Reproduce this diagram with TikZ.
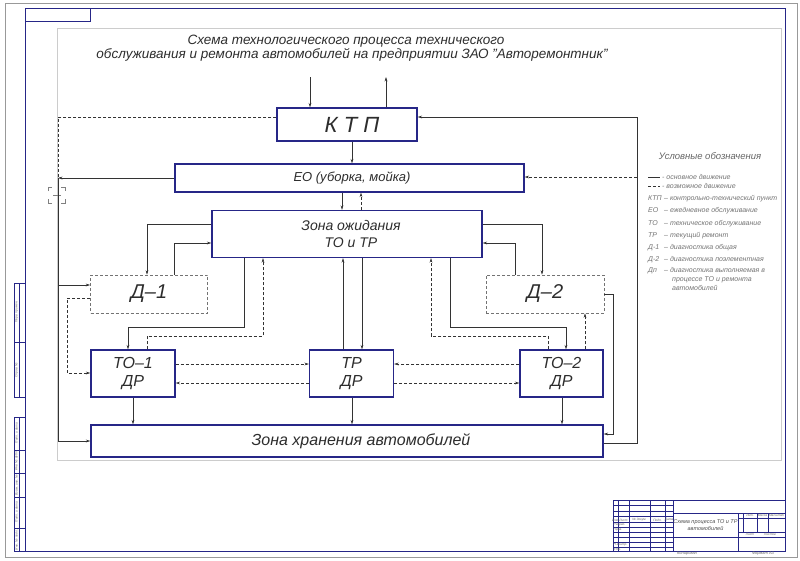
\documentclass[tikz,border=0pt]{standalone}
\usepackage{fontspec}
\setmainfont{Liberation Sans}
\usetikzlibrary{arrows.meta}
\definecolor{frameblue}{RGB}{38,38,135}
\definecolor{ink}{RGB}{45,45,45}
\begin{document}
\begin{tikzpicture}[x=1pt,y=-1pt,
  box/.style={draw=frameblue, line width=1.3pt, fill=white, inner sep=0pt, text=ink, align=center},
  dbox/.style={draw=black!55, dash pattern=on 3pt off 2pt, line width=0.7pt, inner sep=0pt, text=ink, align=center},
  conn/.style={draw=black!80, line width=0.55pt, -{Stealth[length=4.5pt,width=2.8pt]}},
  dconn/.style={conn, dash pattern=on 3pt off 2pt},
  ln/.style={draw=black!80, line width=0.55pt},
  dln/.style={ln, dash pattern=on 3pt off 2pt},
  fr/.style={draw=frameblue, line width=1pt},
  fthin/.style={draw=frameblue, line width=0.4pt},
  lg/.style={anchor=base west, inner sep=0pt, text=black!55, font=\fontsize{7}{8}\selectfont\itshape},
  st/.style={inner sep=0pt, text=black!60, font=\fontsize{3.2}{3.5}\selectfont\itshape},
  sv/.style={st, rotate=90},
]
\useasboundingbox (0,0) rectangle (800,560);
% ---------- sheet frame ----------
\draw[black!40, line width=0.4pt] (5,3) rectangle (797,557);
\draw[fr] (25,8) rectangle (785,551);
\draw[fr] (25,8) rectangle (90,21);
\draw[black!20, line width=0.5pt] (57,28) rectangle (781,460);
% left strips
\draw[fr] (14,283) rectangle (25,397);
\draw[fr] (14,342) -- (25,342);
\draw[fthin] (19,283) -- (19,397);
\node[sv] (s1) at (16.5,312) {Перв. примен.};
\node[sv] (s2) at (16.5,370) {Справ. №};
\draw[fr] (14,417) rectangle (25,551);
\foreach \yy in {450,473,497,528} \draw[fr] (14,\yy) -- (25,\yy);
\draw[fthin] (19,417) -- (19,551);
\node[sv] (s3) at (16.5,433) {Подп. и дата};
\node[sv] (s4) at (16.5,461) {Инв. № дубл.};
\node[sv] (s5) at (16.5,485) {Взам. инв. №};
\node[sv] (s6) at (16.5,512) {Подп. и дата};
\node[sv] (s7) at (16.5,540) {Инв. № подл.};
% title block
\draw[fr] (613,500) rectangle (785,551);
\draw[fr] (673,500) -- (673,551);
\foreach \xx in {618,629,650,665} \draw[fthin] (\xx,500) -- (\xx,551);
\foreach \yy in {505,511,516,527,532,537,542,547} \draw[fthin] (613,\yy) -- (673,\yy);
\draw[fr] (613,522) -- (673,522);
\draw[fr] (673,513) -- (785,513);
\draw[fr] (673,537) -- (785,537);
\draw[fr] (738,513) -- (738,551);
\draw[fthin] (738,518) -- (785,518);
\draw[fthin] (738,532) -- (785,532);
\foreach \xx in {743,757,768} \draw[fthin] (\xx,513) -- (\xx,532);
\node[st] (tb1) at (615.5,520) {Изм.};
\node[st] (tb2) at (623.5,520) {Лист};
\node[st] (tb3) at (639.5,520) {№ докум.};
\node[st] (tb4) at (657.5,520) {Подп.};
\node[st] (tb5) at (669,520) {Дата};
\node[st, anchor=west] (tb6) at (613.5,524.5) {Разраб.};
\node[st, anchor=west] (tb7) at (613.5,529.5) {Пров.};
\node[st, anchor=west] (tb8) at (613.5,544.5) {Н.контр.};
\node[st, anchor=west] (tb9) at (613.5,549.5) {Утв.};
\node[st, text=black!70, font=\fontsize{5.5}{6.5}\selectfont\itshape, align=center] (tb10) at (705.5,525) {Схема процесса ТО и ТР\\автомобилей};
\node[st] (tb11) at (750,515.5) {Лит.};
\node[st] (tb12) at (762.5,515.5) {Масса};
\node[st] (tb13) at (776.5,515.5) {Масштаб};
\node[st] (tb14) at (750,534.5) {Лист};
\node[st] (tb15) at (770,534.5) {Листов};
\node[st, font=\fontsize{4}{4.5}\selectfont\itshape] (tb16) at (687,554) {Копировал};
\node[st, font=\fontsize{4}{4.5}\selectfont\itshape] (tb17) at (763,554) {Формат А3};
% crosshair mark
\draw[black!50, line width=0.4pt] (48,191) -- (48,187) -- (52,187);
\draw[black!50, line width=0.4pt] (61,187) -- (65,187) -- (65,191);
\draw[black!50, line width=0.4pt] (48,199) -- (48,203) -- (52,203);
\draw[black!50, line width=0.4pt] (61,203) -- (65,203) -- (65,199);
\draw[black!50, line width=0.4pt] (53,195) -- (61,195);
% ---------- title ----------
\node[inner sep=0pt, anchor=base, text=ink, font=\fontsize{13.5}{16}\selectfont\itshape] (t1) at (346,44) {Схема технологического процесса технического};
\node[inner sep=0pt, anchor=base, text=ink, font=\fontsize{13.5}{16}\selectfont\itshape] (t2) at (352,58) {обслуживания и ремонта автомобилей на предприятии ЗАО "Авторемонтник"};
% ---------- boxes ----------
\node[box, minimum width=140pt, minimum height=33pt, font=\fontsize{22}{24}\selectfont\itshape] (ktp) at (347,124.5) {\hspace*{10pt}К Т П};
\node[box, minimum width=349pt, minimum height=28pt, font=\fontsize{13}{15}\selectfont\itshape] (eo) at (349.5,178) {\hspace*{5pt}ЕО (уборка, мойка)};
\node[box, minimum width=270pt, minimum height=47pt, font=\fontsize{14}{17}\selectfont\itshape] (zo) at (347,234) {\hspace*{8pt}Зона ожидания\\\hspace*{8pt}ТО и ТР};
\node[dbox, minimum width=117pt, minimum height=38pt, font=\fontsize{20}{22}\selectfont\itshape] (d1) at (149,294) {Д–1};
\node[dbox, minimum width=118pt, minimum height=38pt, font=\fontsize{20}{22}\selectfont\itshape] (d2) at (545,294) {Д–2};
\node[box, minimum width=84pt, minimum height=47pt, font=\fontsize{16}{18}\selectfont\itshape] (to1) at (133,373.5) {ТО–1\\ДР};
\node[box, minimum width=84pt, minimum height=47pt, font=\fontsize{16}{18}\selectfont\itshape] (tr) at (351.5,373.5) {ТР\\ДР};
\node[box, minimum width=83pt, minimum height=47pt, font=\fontsize{16}{18}\selectfont\itshape] (to2) at (561.5,373.5) {ТО–2\\ДР};
\node[box, minimum width=512pt, minimum height=32pt, font=\fontsize{16}{18}\selectfont\itshape] (zh) at (347,441) {\hspace*{28pt}Зона хранения автомобилей};
% ---------- free ends ----------
\coordinate (in1) at (310,77);
\coordinate (out1) at (386,77);
\coordinate (rt) at (637,117);
\coordinate (rb) at (637,443);
\coordinate (re) at (637,177);
\coordinate (lt) at (58,117);
\coordinate (lm) at (58,178);
\coordinate (lb) at (58,441);
% ---------- connectors ----------
\draw[conn] (in1) -- (in1 |- ktp.north);
\draw[conn] (out1 |- ktp.north) -- (out1);
\draw[conn] (zh.east |- rb) -- (rb) -- (rt) -- (ktp.east |- rt);
\draw[dconn] (re) -- (eo.east |- re);
\draw[dln] (ktp.west |- lt) -- (lt) -- (lm);
\draw[conn] (eo.west) -- (lm);
\draw[conn] (lm) -- (lb) -- (zh.west);
\draw[conn] (58,285) -- (d1.west |- 0,285);
\draw[conn] (352,0 |- ktp.south) -- (352,0 |- eo.north);
\draw[conn] (342,0 |- eo.south) -- (342,0 |- zo.north);
\draw[dconn] (361,0 |- zo.north) -- (361,0 |- eo.south);
% zone <-> D-1 / D-2
\draw[conn] (zo.west |- 0,224) -- (147,224) -- (147,0 |- d1.north);
\draw[conn] (174,0 |- d1.north) -- (174,243) -- (zo.west |- 0,243);
\draw[conn] (zo.east |- 0,224) -- (542,224) -- (542,0 |- d2.north);
\draw[conn] (515,0 |- d2.north) -- (515,243) -- (zo.east |- 0,243);
% zone <-> TO / TR
\draw[conn] (244,0 |- zo.south) -- (244,327) -- (128,327) -- (128,0 |- to1.north);
\draw[dconn] (147,0 |- to1.north) -- (147,336) -- (263,336) -- (263,0 |- zo.south);
\draw[conn] (343,0 |- tr.north) -- (343,0 |- zo.south);
\draw[conn] (362,0 |- zo.south) -- (362,0 |- tr.north);
\draw[dconn] (548,0 |- to2.north) -- (548,336) -- (431,336) -- (431,0 |- zo.south);
\draw[conn] (450,0 |- zo.south) -- (450,327) -- (566,327) -- (566,0 |- to2.north);
% D links
\draw[dconn] (585,0 |- to2.north) -- (585,0 |- d2.south);
\draw[conn] (d2.east |- 0,294) -- (613,294) -- (613,434) -- (zh.east |- 0,434);
\draw[dconn] (d1.west |- 0,298) -- (67,298) -- (67,373) -- (to1.west |- 0,373);
% horizontal dashed between TO / TR
\draw[dconn] (to1.east |- 0,364) -- (tr.west |- 0,364);
\draw[dconn] (tr.west |- 0,383) -- (to1.east |- 0,383);
\draw[dconn] (to2.west |- 0,364) -- (tr.east |- 0,364);
\draw[dconn] (tr.east |- 0,383) -- (to2.west |- 0,383);
% down to storage
\draw[conn] (133,0 |- to1.south) -- (133,0 |- zh.north);
\draw[conn] (352,0 |- tr.south) -- (352,0 |- zh.north);
\draw[conn] (562,0 |- to2.south) -- (562,0 |- zh.north);
% ---------- legend ----------
\node[inner sep=0pt, anchor=base, text=black!60, font=\fontsize{9.5}{11}\selectfont\itshape] (lgt) at (710,159) {Условные обозначения};
\draw[ln] (648,177) -- (660,177);
\node[lg] (l1) at (662,179) {- основное движение};
\draw[dln] (648,186) -- (660,186);
\node[lg] (l2) at (662,188) {- возможное движение};
\node[lg] (l3a) at (648,200) {КТП};
\node[lg] (l3) at (664,200) {– контрольно-технический пункт};
\node[lg] (l4a) at (648,212) {ЕО};
\node[lg] (l4) at (664,212) {– ежедневное обслуживание};
\node[lg] (l5a) at (648,225) {ТО};
\node[lg] (l5) at (664,225) {– техническое обслуживание};
\node[lg] (l6a) at (648,237) {ТР};
\node[lg] (l6) at (664,237) {– текущий ремонт};
\node[lg] (l7a) at (648,249) {Д-1};
\node[lg] (l7) at (664,249) {– диагностика общая};
\node[lg] (l8a) at (648,261) {Д-2};
\node[lg] (l8) at (664,261) {– диагностика поэлементная};
\node[lg] (l9a) at (648,272) {Дп};
\node[lg] (l9) at (664,272) {– диагностика выполняемая в};
\node[lg] (l9b) at (672,281) {процессе ТО и ремонта};
\node[lg] (l9c) at (672,290) {автомобилей};
\end{tikzpicture}
\end{document}
